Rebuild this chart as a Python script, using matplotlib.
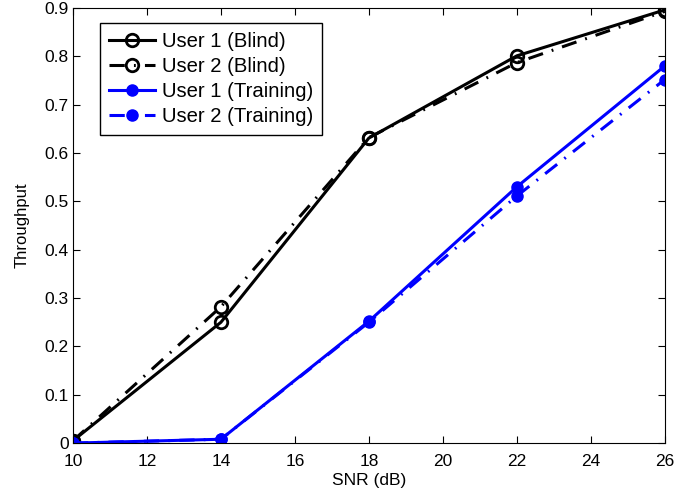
import numpy as np
import matplotlib.pyplot as plt

plt.rcParams['font.family'] = ['Liberation Sans', 'DejaVu Sans']

snr = [10, 14, 18, 22, 26]
user1_blind = [0.005, 0.250, 0.631, 0.801, 0.896]
user2_blind = [0.005, 0.282, 0.632, 0.787, 0.893]
user1_train = [0.000, 0.008, 0.252, 0.530, 0.780]
user2_train = [0.000, 0.008, 0.250, 0.511, 0.752]

fig = plt.figure(figsize=(6.79, 4.99), dpi=100)
ax = fig.add_axes([0.1075, 0.112, 0.8715, 0.872])

dashdot = (0, (5, 3, 0.6, 3))
ax.plot(snr, user1_blind, color='k', lw=2.2, marker='o', ms=9, mfc='none',
        mew=2, label='User 1 (Blind)')
ax.plot(snr, user2_blind, color='k', lw=2.2, ls=dashdot, marker='o',
        ms=9, mfc='none', mew=2, label='User 2 (Blind)')
ax.plot(snr, user1_train, color='b', lw=2.2, marker='o', ms=8,
        label='User 1 (Training)')
ax.plot(snr, user2_train, color='b', lw=2.2, ls=dashdot, marker='o',
        ms=8, label='User 2 (Training)')

ax.set_xlim(10, 26)
ax.set_ylim(0, 0.9)
ax.set_xticks(np.arange(10, 27, 2))
ax.set_yticks(np.arange(0, 0.91, 0.1))
ax.set_yticklabels(['0'] + ['%.1f' % v for v in np.arange(0.1, 0.91, 0.1)])
ax.tick_params(direction='in', top=True, right=True, labelsize=12.5, length=5,
               pad=3)
ax.tick_params(axis='x', pad=8)
ax.set_xlabel('SNR (dB)', fontsize=12.5, labelpad=3)
ax.set_ylabel('Throughput', fontsize=12, labelpad=11)

leg = ax.legend(loc='upper left', bbox_to_anchor=(0.0456, 0.9655),
                borderaxespad=0, fontsize=14.6, fancybox=False, framealpha=1,
                edgecolor='k', handlelength=2.25, labelspacing=0.3,
                borderpad=0.45, handletextpad=0.35)
leg.get_frame().set_linewidth(1)

fig.savefig('out.png', dpi=100)
